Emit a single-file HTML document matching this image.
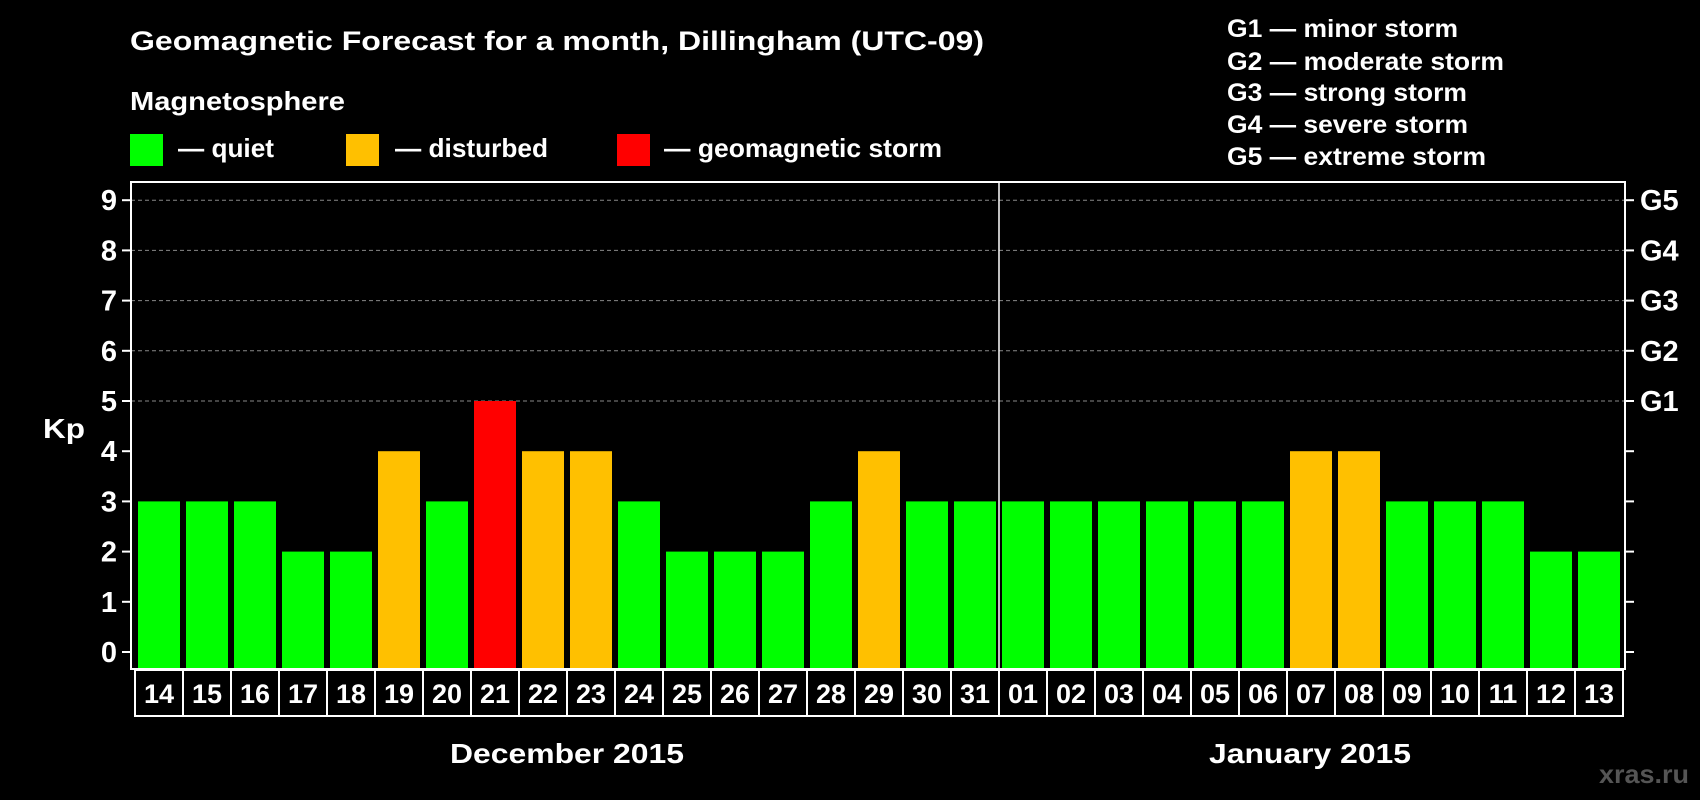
<!DOCTYPE html>
<html><head><meta charset="utf-8"><style>
html,body{margin:0;padding:0;background:#000;}
svg{display:block;font-family:"Liberation Sans",Arial,sans-serif;font-weight:bold;}
</style></head><body>
<svg id="chart" width="1700" height="800" viewBox="0 0 1700 800">
<rect width="1700" height="800" fill="#000"/>
<text x="130" y="50" fill="#fff" font-size="27" textLength="854" lengthAdjust="spacingAndGlyphs">Geomagnetic Forecast for a month, Dillingham (UTC-09)</text>
<text x="130" y="110" fill="#fff" font-size="26" textLength="215" lengthAdjust="spacingAndGlyphs">Magnetosphere</text>
<g><rect x="130" y="134" width="33" height="32" fill="#00ff00"/><text x="178" y="157" fill="#fff" font-size="26" textLength="96" lengthAdjust="spacingAndGlyphs">— quiet</text></g>
<g><rect x="346" y="134" width="33" height="32" fill="#ffc000"/><text x="395" y="157" fill="#fff" font-size="26" textLength="153" lengthAdjust="spacingAndGlyphs">— disturbed</text></g>
<g><rect x="617" y="134" width="33" height="32" fill="#ff0000"/><text x="664" y="157" fill="#fff" font-size="26" textLength="278" lengthAdjust="spacingAndGlyphs">— geomagnetic storm</text></g>
<g fill="#fff" font-size="25">
<text x="1227" y="37" textLength="231" lengthAdjust="spacingAndGlyphs">G1 — minor storm</text>
<text x="1227" y="70" textLength="277" lengthAdjust="spacingAndGlyphs">G2 — moderate storm</text>
<text x="1227" y="101" textLength="240" lengthAdjust="spacingAndGlyphs">G3 — strong storm</text>
<text x="1227" y="133" textLength="241" lengthAdjust="spacingAndGlyphs">G4 — severe storm</text>
<text x="1227" y="165" textLength="259" lengthAdjust="spacingAndGlyphs">G5 — extreme storm</text>
</g>
<text x="43" y="438" fill="#fff" font-size="28" textLength="42" lengthAdjust="spacingAndGlyphs">Kp</text>
<g id="grid"></g>
<g id="bars"></g>
<rect x="131" y="182" width="1494" height="487" fill="none" stroke="#fff" stroke-width="2"/>
<line x1="999" y1="182" x2="999" y2="669" stroke="#fff" stroke-width="1.5"/>
<g id="axes"></g>
<text x="450" y="763" fill="#fff" font-size="28" textLength="234" lengthAdjust="spacingAndGlyphs">December 2015</text>
<text x="1209" y="763" fill="#fff" font-size="28" textLength="202" lengthAdjust="spacingAndGlyphs">January 2015</text>
<text x="1599" y="783" fill="#555" font-size="26" textLength="90" lengthAdjust="spacingAndGlyphs">xras.ru</text>
</svg>
<script>
const days = ["14","15","16","17","18","19","20","21","22","23","24","25","26","27","28","29","30","31","01","02","03","04","05","06","07","08","09","10","11","12","13"];
const kp = [3,3,3,2,2,4,3,5,4,4,3,2,2,2,3,4,3,3,3,3,3,3,3,3,4,4,3,3,3,2,2];
const yTicks = [0,1,2,3,4,5,6,7,8,9];
const gLabels = ["G1","G2","G3","G4","G5"];
const NS="http://www.w3.org/2000/svg";
const y=v=>652-v*50.2;
const x=i=>135+i*48;
function mk(tag,attrs,parent,txt){const e=document.createElementNS(NS,tag);for(const k in attrs)e.setAttribute(k,attrs[k]);if(txt!==undefined)e.textContent=txt;parent.appendChild(e);return e;}
const grid=document.getElementById('grid'),bars=document.getElementById('bars'),axes=document.getElementById('axes');
yTicks.forEach(v=>{
 if(v>=5){const l=mk('line',{x1:131,x2:1625,y1:y(v),y2:y(v),stroke:'#888','stroke-width':1,'stroke-dasharray':'4,3'},grid);
 
 }
 const t1=mk('line',{x1:122,x2:131,y1:y(v),y2:y(v),stroke:'#fff','stroke-width':2},axes);
 
 
 const t2=mk('line',{x1:1625,x2:1634,y1:y(v),y2:y(v),stroke:'#fff','stroke-width':2},axes);
 
 
 const lb=mk('text',{x:117,y:y(v)+10,fill:'#fff','font-size':29,'text-anchor':'end'},axes,String(v));
 
 
});
gLabels.forEach((g,i)=>{
 const t=mk('text',{x:1640,y:y(5+i)+10,fill:'#fff','font-size':29},axes,g);
 
 
});
kp.forEach((v,i)=>{
 const c=v>=5?'#ff0000':(v>=4?'#ffc000':'#00ff00');
 const r=mk('rect',{x:x(i)+3,y:y(v),width:42,height:668-y(v),fill:c},bars);
 
 
 const b=mk('rect',{x:x(i),y:670,width:48,height:46,fill:'none',stroke:'#fff','stroke-width':2},axes);
 
 
 const t=mk('text',{x:x(i)+24,y:703,fill:'#fff','font-size':27,'text-anchor':'middle'},axes,days[i]);
 
 
});
</script>
</body></html>
